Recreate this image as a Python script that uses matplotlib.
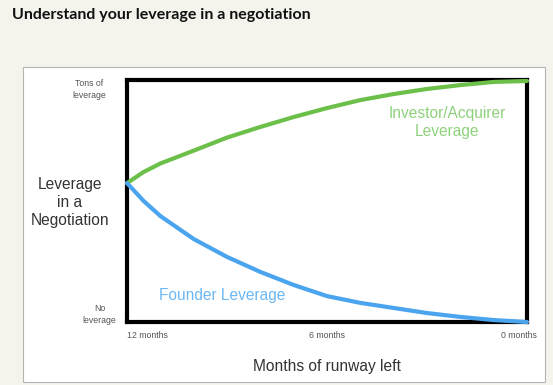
import matplotlib.pyplot as plt
from matplotlib.patches import Rectangle

# months of runway left, and leverage (0 = none, 1 = tons)
months = [12, 11.5, 11, 10, 9, 8, 7, 6, 5, 4, 3, 2, 1, 0]
investor = [0.574, 0.62, 0.655, 0.708, 0.762, 0.806, 0.847, 0.884, 0.917, 0.942, 0.963, 0.979, 0.992, 0.996]
founder = [0.574, 0.50, 0.438, 0.343, 0.269, 0.207, 0.153, 0.107, 0.079, 0.058, 0.037, 0.021, 0.008, 0.0]

x_ticks = [12, 6, 0]
x_labels = ['12 months', '6 months', '0 months']

W, H = 553, 385
BG = '#f4f3ec'
GREEN = '#6cc04a'
BLUE = '#4ba4ee'
GREEN_TXT = '#8fd27c'
BLUE_TXT = '#6cb8f4'
GRAY = '#555555'
FONT = 'Liberation Sans'


def fx(px):
    return px / W


def fy(py):
    return 1 - py / H


fig = plt.figure(figsize=(W / 100, H / 100), dpi=100)
fig.patch.set_facecolor(BG)

# white card behind the chart
fig.patches.append(Rectangle((fx(23), fy(382)), fx(545) - fx(23), fy(67) - fy(382),
                             transform=fig.transFigure, facecolor='white',
                             edgecolor='#b4b4b4', linewidth=0.8, zorder=-10))

fig.text(fx(12), fy(15), 'Understand your leverage in a negotiation', family='Lato',
         weight='bold', fontsize=11.5, color='#111111', ha='left', va='center')

ax = fig.add_axes([fx(127), fy(322), fx(527) - fx(127), fy(80) - fy(322)])
ax.set_facecolor('white')
for s in ax.spines.values():
    s.set_linewidth(3.0)
    s.set_color('black')
ax.set_xlim(12, 0)
ax.set_ylim(0, 1)
ax.set_xticks([])
ax.set_yticks([])

ax.plot(months, investor, color=GREEN, lw=3, solid_capstyle='round',
        solid_joinstyle='round', zorder=3, clip_on=False)
ax.plot(months, founder, color=BLUE, lw=3, solid_capstyle='round',
        solid_joinstyle='round', zorder=3, clip_on=False)

ax.text(9.15, 0.11, 'Founder Leverage', family=FONT, fontsize=11.2, color=BLUE_TXT,
        ha='center', va='center')
ax.text(2.4, 0.826, 'Investor/Acquirer\nLeverage', family=FONT, fontsize=11.2,
        color=GREEN_TXT, ha='center', va='center', linespacing=1.25)

# x tick labels
tick_x = [fx(127), fx(327), fx(537)]
tick_ha = ['left', 'center', 'right']
for m, lab, px, ha in zip(x_ticks, x_labels, tick_x, tick_ha):
    fig.text(px, fy(336), lab, family=FONT, fontsize=6.3, color=GRAY, ha=ha, va='center')

fig.text(fx(327), fy(366), 'Months of runway left', family=FONT, fontsize=11.2,
         color='#333333', ha='center', va='center')

# y side labels
fig.text(fx(89), fy(89.5), 'Tons of\nleverage', family=FONT, fontsize=6.3, color=GRAY,
         ha='center', va='center', linespacing=1.3)
fig.text(fx(99.5), fy(314.5), 'No\nleverage', family=FONT, fontsize=6.3, color=GRAY,
         ha='center', va='center', linespacing=1.3)
fig.text(fx(70), fy(203), 'Leverage\nin a\nNegotiation', family=FONT, fontsize=11.2,
         color='#333333', ha='center', va='center', linespacing=1.25)

fig.savefig('out.png', dpi=100, facecolor=BG)
